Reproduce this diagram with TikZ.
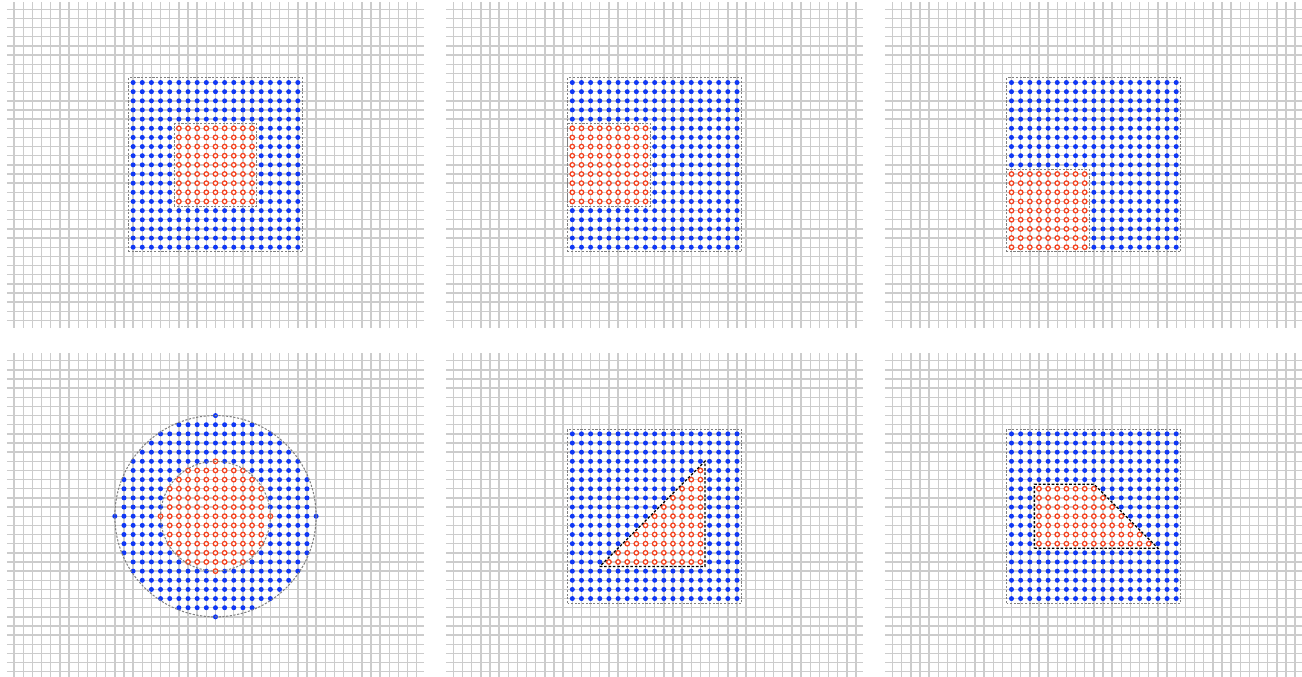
\documentclass[tikz,border=0pt]{standalone}
\usepackage{tikz}

\definecolor{dotblue}{RGB}{15,55,245}
\definecolor{ringred}{RGB}{245,65,30}

% one block of points: red where the test #1 holds, blue elsewhere
\newcommand\dotblock[1]{%
  \foreach \cx in {13,...,31}
    \foreach \cy in {8,...,26} {
      \pgfmathparse{#1}
      \ifdim\pgfmathresult pt>0.5pt
        \filldraw[redring] (\cx,\cy) circle (1.75pt);
      \else
        \fill[bluedot] (\cx,\cy) circle (1.95pt);
      \fi
    }}

\begin{document}
\begin{tikzpicture}[x=2.5mm, y=2.5mm,
  gridline/.style={gray!40, line width=1.1pt},
  bluedot/.style={fill=dotblue},
  redring/.style={draw=ringred, fill=white, line width=1pt},
  boxline/.style={gray, line width=0.8pt, dash pattern=on 1.7pt off 1.2pt},
  cutline/.style={black, line width=1pt, dash pattern=on 2pt off 1.4pt},
]
\useasboundingbox (-1.55,-0.47) rectangle (140.75,73.42);

%%% background grids
\foreach \px/\py in {0/38.4, 48/38.4, 96/38.4, 0/0, 48/0, 96/0} {
  \begin{scope}[shift={(\px,\py)}]
    \draw[gridline] \foreach \c in {0,...,44} { (\c,-0.8) -- (\c,34.8) }
                    \foreach \r in {0,...,34} { (-0.8,\r) -- (44.8,\r) };
  \end{scope}
}

%%% square hole in the middle
\begin{scope}[shift={(0,38.4)}]
  \dotblock{(\cx>=18)&&(\cx<=26)&&(\cy>=13)&&(\cy<=21)}
  \draw[boxline] (12.5,7.5) rectangle (31.5,26.5);
  \draw[boxline] (17.5,12.5) rectangle (26.5,21.5);
\end{scope}

%%% square hole on the left edge
\begin{scope}[shift={(48,38.4)}]
  \dotblock{(\cx<=21)&&(\cy>=13)&&(\cy<=21)}
  \draw[boxline] (12.5,7.5) rectangle (31.5,26.5);
  \draw[boxline] (12.5,12.5) rectangle (21.5,21.5);
\end{scope}

%%% square hole in the corner
\begin{scope}[shift={(96,38.4)}]
  \dotblock{(\cx<=21)&&(\cy<=16)}
  \draw[boxline] (12.5,7.5) rectangle (31.5,26.5);
  \draw[boxline] (12.5,7.5) rectangle (21.5,16.5);
\end{scope}

%%% disc with round hole
\begin{scope}[shift={(0,0)}]
  \foreach \cx in {11,...,33}
    \foreach \cy in {6,...,28} {
      \pgfmathtruncatemacro\dd{(\cx-22)*(\cx-22)+(\cy-17)*(\cy-17)}
      \ifnum\dd<37
        \filldraw[redring] (\cx,\cy) circle (1.75pt);
      \else\ifnum\dd<122
        \fill[bluedot] (\cx,\cy) circle (1.95pt);
      \fi\fi
    }
  \draw[boxline] (22,17) circle (11);
  \draw[boxline] (22,17) circle (6);
\end{scope}

%%% triangular hole
\begin{scope}[shift={(48,0)}]
  \dotblock{(\cy>=12)&&(\cx<=27)&&(\cx-\cy>=5)}
  \draw[boxline] (12.5,7.5) rectangle (31.5,26.5);
  \draw[cutline] (16,11.5) -- (27.5,11.5) -- (27.5,23) -- cycle;
\end{scope}

%%% trapezoid hole
\begin{scope}[shift={(96,0)}]
  \dotblock{(\cx>=16)&&(\cy>=14)&&(\cy<=20)&&(\cx+\cy<=42)}
  \draw[boxline] (12.5,7.5) rectangle (31.5,26.5);
  \draw[cutline] (15.5,13.5) -- (29,13.5) -- (22,20.5) -- (15.5,20.5) -- cycle;
\end{scope}

\end{tikzpicture}
\end{document}
